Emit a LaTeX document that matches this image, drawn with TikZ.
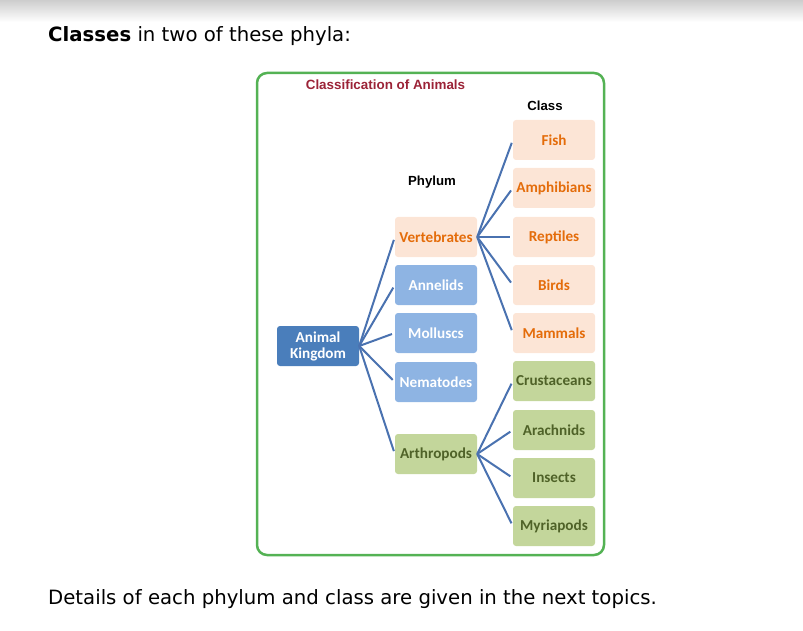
\documentclass[tikz,border=0pt]{standalone}
\usepackage{fontspec}
\setmainfont{DejaVu Sans}
\newfontfamily\arialf{Liberation Sans}
\newfontfamily\calf{Carlito}
\definecolor{framegreen}{RGB}{84,178,84}
\definecolor{titlered}{RGB}{155,35,55}
\definecolor{akblue}{RGB}{74,126,187}
\definecolor{phblue}{RGB}{142,180,227}
\definecolor{peach}{RGB}{252,229,214}
\definecolor{orangetxt}{RGB}{228,108,10}
\definecolor{lgreen}{RGB}{195,214,155}
\definecolor{dgreentxt}{RGB}{79,98,40}
\definecolor{linkblue}{RGB}{74,114,176}
\definecolor{topgray}{RGB}{205,205,205}
\tikzset{
  boxbase/.style={minimum width=82pt, minimum height=40pt, inner sep=0pt, rounded corners=3pt, font=\calf\bfseries\fontsize{15.2}{17}\selectfont, align=center},
  akbox/.style={boxbase, fill=akblue, text=white},
  bluebox/.style={boxbase, fill=phblue, text=white},
  peachbox/.style={boxbase, fill=peach, text=orangetxt},
  greenbox/.style={boxbase, fill=lgreen, text=dgreentxt},
  link/.style={draw=linkblue, line width=2pt, shorten >=3pt},
  hdr/.style={font=\arialf\bfseries\fontsize{13.2}{15}\selectfont, inner sep=0pt}
}
\begin{document}
\begin{tikzpicture}[x=1pt,y=-1pt]
\useasboundingbox (0,0) rectangle (803,631);
\shade[top color=topgray, bottom color=white] (0,0) rectangle (803,22);
\node[anchor=base west, inner sep=0pt, font=\fontsize{19.7}{22}\selectfont] (intro) at (48,42) {\textbf{Classes} in two of these phyla:};
\node[anchor=base west, inner sep=0pt, font=\fontsize{19.7}{22}\selectfont] (outro) at (48,604) {Details of each phylum and class are given in the next topics.};
\draw[framegreen, line width=2.5pt, rounded corners=10pt] (257,73) rectangle (604,555);
\node[hdr, text=titlered, font=\arialf\bfseries\fontsize{13.4}{15}\selectfont] (ttl) at (385.5,85) {Classification of Animals};
\node[hdr] (clshdr) at (545,106) {Class};
\node[hdr] (phyhdr) at (432,182) {Phylum};
% root
\node[akbox] (ak) at (318,346) {Animal\\[-1pt]Kingdom};
% phyla
\node[peachbox] (vert) at (436,237) {Vertebrates};
\node[bluebox] (ann) at (436,285) {Annelids};
\node[bluebox] (mol) at (436,333) {Molluscs};
\node[bluebox] (nem) at (436,382) {Nematodes};
\node[greenbox] (arth) at (436,454) {Arthropods};
% classes
\node[peachbox] (fish) at (554,140) {Fish};
\node[peachbox] (amph) at (554,188) {Amphibians};
\node[peachbox] (rept) at (554,237) {Reptiles};
\node[peachbox] (bird) at (554,285) {Birds};
\node[peachbox] (mamm) at (554,333) {Mammals};
\node[greenbox] (crus) at (554,381) {Crustaceans};
\node[greenbox] (arac) at (554,430) {Arachnids};
\node[greenbox] (inse) at (554,478) {Insects};
\node[greenbox] (myri) at (554,526) {Myriapods};
% connectors
\foreach \t in {vert,ann,mol,nem,arth} \draw[link] (ak.east) -- (\t.west);
\foreach \t in {fish,amph,rept,bird,mamm} \draw[link] (vert.east) -- (\t.west);
\foreach \t in {crus,arac,inse,myri} \draw[link] (arth.east) -- (\t.west);
\end{tikzpicture}
\end{document}
